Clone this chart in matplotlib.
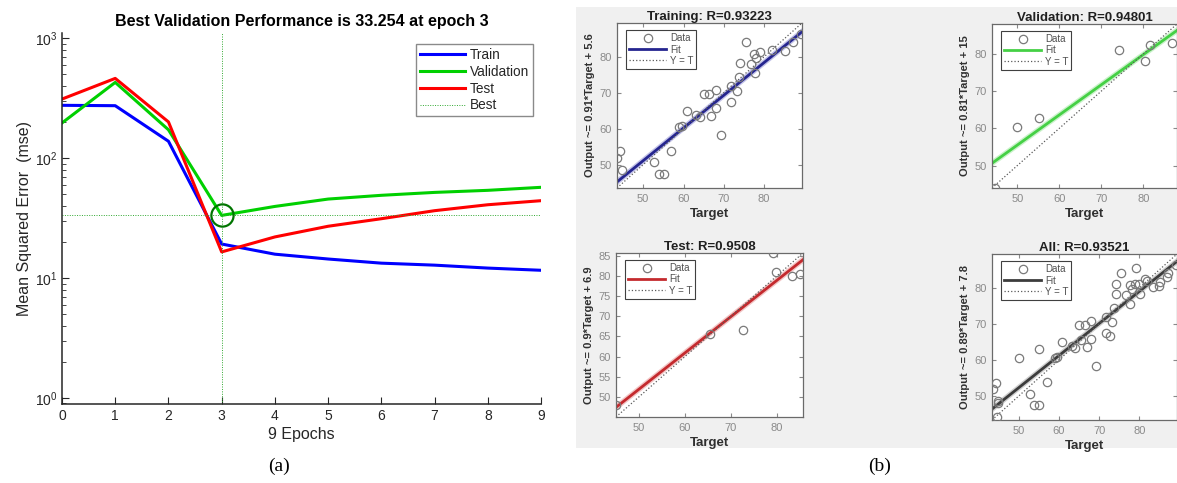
import numpy as np
import matplotlib
matplotlib.use("Agg")
import matplotlib.pyplot as plt
from matplotlib.patches import Rectangle
from matplotlib.ticker import LogLocator, NullFormatter, FixedLocator

plt.rcParams['font.family'] = ['Liberation Sans', 'DejaVu Sans']

# ---------------- data: panel (a) performance ----------------
epochs = [0, 1, 2, 3, 4, 5, 6, 7, 8, 9]
train_mse = [275, 273, 138, 19.2, 15.8, 14.4, 13.3, 12.8, 12.1, 11.6]
val_mse = [196, 427, 172, 33.254, 39.5, 45.5, 48.9, 51.7, 53.8, 57.0]
test_mse = [310, 461, 200, 16.5, 22.0, 27.0, 31.2, 36.4, 40.8, 44.1]
best_epoch = 3
best_perf = 33.254

# ---------------- data: panel (b) regression ----------------
train_T = [43.6, 44.3, 44.8, 52.7, 53.8, 55.1, 57.0, 59.0, 59.6, 60.8, 63.2, 64.1,
           65.0, 66.4, 66.9, 68.0, 68.0, 69.2, 71.7, 71.8, 73.3, 73.7, 74.1, 75.5,
           76.7, 77.6, 77.8, 78.1, 79.0, 81.9, 85.2, 87.2, 89.1]
train_Y = [51.9, 53.7, 48.6, 50.6, 47.5, 47.5, 53.8, 60.4, 60.7, 64.9, 63.9, 63.2,
           69.7, 69.7, 63.5, 70.8, 65.7, 58.3, 72.0, 67.5, 70.4, 74.5, 78.3, 84.2,
           78.0, 80.9, 75.4, 79.8, 81.2, 81.9, 81.5, 84.2, 86.3]
val_T = [44.6, 50.0, 55.1, 74.2, 80.3, 81.5, 86.9]
val_Y = [44.0, 60.4, 62.9, 81.1, 78.2, 82.4, 82.9]
test_T = [44.9, 65.5, 72.6, 79.1, 79.9, 83.4, 85.0]
test_Y = [47.9, 65.5, 66.7, 85.6, 81.1, 80.1, 80.4]

panel_titles = ["Training: R=0.93223", "Validation: R=0.94801", "Test: R=0.9508", "All: R=0.93521"]
fit_slopes = [0.91, 0.81, 0.9, 0.89]
fit_intercepts = [5.6, 15, 6.9, 7.8]
fit_labels = ["Output ~= 0.91*Target + 5.6", "Output ~= 0.81*Target + 15",
              "Output ~= 0.9*Target + 6.9", "Output ~= 0.89*Target + 7.8"]
panel_lims = [(43.5, 89.4), (44.0, 88.0), (45.0, 85.7), (43.3, 89.4)]
panel_yticks = [[50, 60, 70, 80], [50, 60, 70, 80], [50, 55, 60, 65, 70, 75, 80, 85], [50, 60, 70, 80]]
xticks_b = [50, 60, 70, 80]

W, H = 1177, 483
fig = plt.figure(figsize=(W / 100, H / 100), dpi=100)


def rect(x0, y0, x1, y1):
    return [x0 / W, 1 - y1 / H, (x1 - x0) / W, (y1 - y0) / H]


# ================= panel (a) =================
TXT = '#262626'
ax = fig.add_axes(rect(62, 33, 541, 404))
ax.plot(epochs, train_mse, color='#0000ff', lw=2.2, label='Train')
ax.plot(epochs, val_mse, color='#00d000', lw=2.2, label='Validation')
ax.plot(epochs, test_mse, color='#ff0000', lw=2.2, label='Test')
ax.axvline(best_epoch, color='#2fa82f', lw=0.7, ls=(0, (1, 1.5)))
ax.axhline(best_perf, color='#2fa82f', lw=0.7, ls=(0, (1, 1.5)), label='Best')
ax.plot([best_epoch], [best_perf], 'o', mfc='none', mec='#007500', mew=1.6, ms=16)
ax.set_yscale('log')
ax.set_xlim(0, 9)
ax.set_ylim(10 ** -0.05, 10 ** 3.042)
ax.set_xticks(epochs)
ax.yaxis.set_major_locator(LogLocator(base=10, numticks=10))
ax.yaxis.set_minor_locator(LogLocator(base=10, subs=np.arange(2, 10), numticks=20))
ax.yaxis.set_minor_formatter(NullFormatter())
for s in ['top', 'right']:
    ax.spines[s].set_visible(False)
for s in ['left', 'bottom']:
    ax.spines[s].set_color(TXT)
    ax.spines[s].set_linewidth(1.1)
ax.tick_params(which='both', direction='in', colors=TXT, labelsize=10)
ax.tick_params(which='major', length=5)
ax.tick_params(which='minor', length=3)
ax.set_title('Best Validation Performance is 33.254 at epoch 3', fontsize=11.5,
             fontweight='bold', color='black', pad=5)
ax.set_xlabel('9 Epochs', fontsize=11.5, color=TXT, labelpad=3)
ax.set_ylabel('Mean Squared Error  (mse)', fontsize=11.5, color=TXT, labelpad=2)
leg = ax.legend(loc='upper right', bbox_to_anchor=(0.984, 0.970), borderaxespad=0,
                fontsize=9.8, handlelength=3.3, handletextpad=0.4, labelspacing=0.2,
                borderpad=0.3, fancybox=False, framealpha=1, edgecolor='#8a8a8a')
leg.get_frame().set_linewidth(1.0)
for t in leg.get_texts():
    t.set_color(TXT)

# ================= panel (b) =================
fig.add_artist(Rectangle((576 / W, 1 - 448 / H), (W - 576) / W, (448 - 7) / H,
                         transform=fig.transFigure, facecolor='#f0f0f0',
                         edgecolor='none', zorder=-1))

all_T = train_T + val_T + test_T
all_Y = train_Y + val_Y + test_Y
panel_data = [(train_T, train_Y), (val_T, val_Y), (test_T, test_Y), (all_T, all_Y)]
fit_colors = ['#25258f', '#45d045', '#c42a2e', '#3c3c3c']
halo_colors = ['#9a9ad8', '#a8eaa8', '#eaa0a0', '#b0b0b0']
rects = [rect(617, 23, 802, 188), rect(992, 24, 1177, 188),
         rect(616, 253, 803, 417), rect(992, 254, 1177, 420)]

for i in range(4):
    a = fig.add_axes(rects[i])
    T, Y = panel_data[i]
    lo, hi = panel_lims[i]
    xs = np.array([lo, hi])
    a.plot(T, Y, 'o', mfc='none', mec='#7a7a7a', mew=0.9, ms=6, label='Data', zorder=3)
    a.plot(xs, fit_slopes[i] * xs + fit_intercepts[i], color=halo_colors[i], lw=4, alpha=0.6, zorder=2)
    a.plot(xs, fit_slopes[i] * xs + fit_intercepts[i], color=fit_colors[i], lw=2, label='Fit', zorder=2)
    a.plot(xs, xs, ls=':', color='#5a5a5a', lw=0.9, label='Y = T', zorder=2)
    a.set_xlim(lo, hi)
    a.set_ylim(lo, hi)
    a.xaxis.set_major_locator(FixedLocator(xticks_b))
    a.yaxis.set_major_locator(FixedLocator(panel_yticks[i]))
    a.tick_params(direction='in', top=True, right=True, length=3, colors='#8a8a8a',
                  labelsize=8, pad=4)
    for s in a.spines.values():
        s.set_color('#6a6a6a')
        s.set_linewidth(0.9)
    a.set_title(panel_titles[i], fontsize=9.5, fontweight='bold', color='#202020', pad=2)
    a.set_xlabel('Target', fontsize=9.5, fontweight='bold', color='#303030', labelpad=3)
    a.set_ylabel(fit_labels[i], fontsize=8, fontweight='bold', color='#303030', labelpad=3)
    lg = a.legend(loc='upper left', bbox_to_anchor=(0.05, 0.955), borderaxespad=0,
                  fontsize=7, handlelength=3.8, handletextpad=0.4, labelspacing=0.12,
                  borderpad=0.3, fancybox=False, framealpha=1, edgecolor='#404040')
    lg.get_frame().set_linewidth(0.8)
    for t in lg.get_texts():
        t.set_color('#505050')

fig.text(279 / W, 1 - 466 / H, '(a)', fontsize=14, family=['Liberation Serif'],
         ha='center', va='center')
fig.text(880 / W, 1 - 466 / H, '(b)', fontsize=14, family=['Liberation Serif'],
         ha='center', va='center')

fig.savefig('out.png', dpi=100)
